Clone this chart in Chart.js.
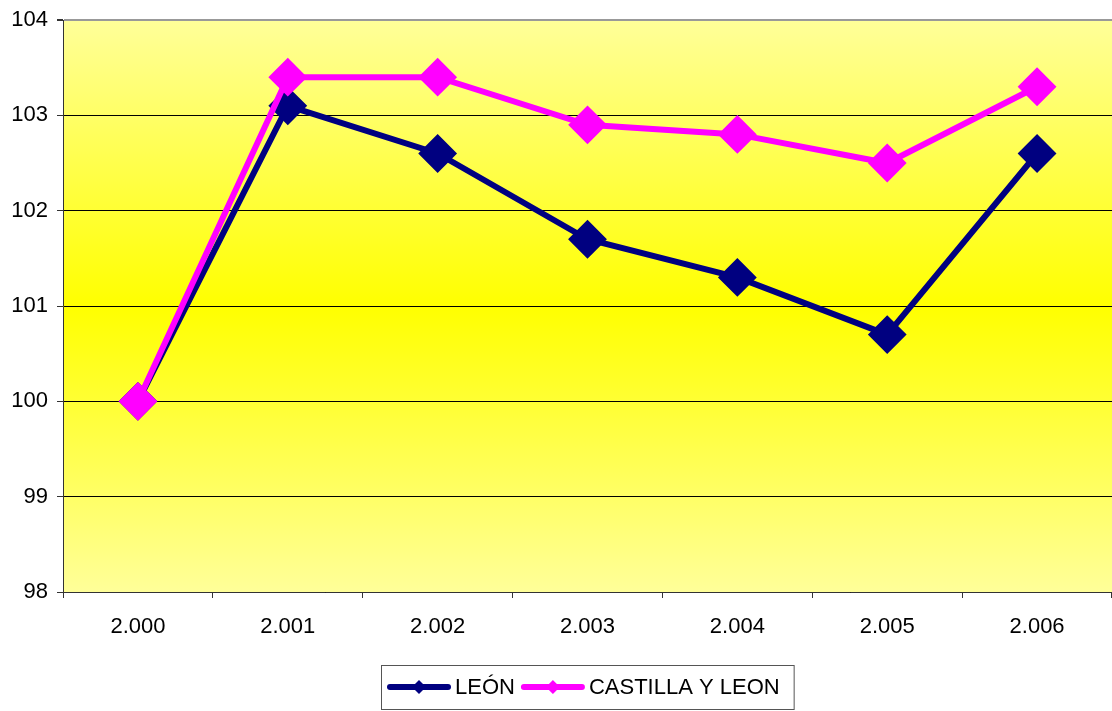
<!DOCTYPE html>
<html>
<head>
<meta charset="utf-8">
<script src="https://cdn.jsdelivr.net/npm/chart.js@4/dist/chart.umd.min.js"></script>
<style>
  html, body { margin: 0; padding: 0; background: #fff; }
  #wrap { width: 1112px; height: 711px; }
</style>
</head>
<body>
<div id="wrap"><canvas id="chart" width="1112" height="711"></canvas></div>
<script>
// data
const years = ["2.000", "2.001", "2.002", "2.003", "2.004", "2.005", "2.006"];
const leon = [100, 103.1, 102.6, 101.7, 101.3, 100.7, 102.6];
const castillaLeon = [100, 103.4, 103.4, 102.9, 102.8, 102.5, 103.3];
const seriesNames = ["LEÓN", "CASTILLA Y LEON"];
const seriesColors = ["#000080", "#FF00FF"];
const yTicks = [98, 99, 100, 101, 102, 103, 104];

const FONT = "'Liberation Sans', Arial, sans-serif";

// yellow gradient behind the plot area
const plotBackground = {
  id: "plotBackground",
  beforeDraw(chart) {
    const { ctx, chartArea: a } = chart;
    const g = ctx.createLinearGradient(0, a.top, 0, a.bottom);
    g.addColorStop(0, "#FFFF99");
    g.addColorStop(0.5, "#FFFF00");
    g.addColorStop(1, "#FFFF99");
    ctx.save();
    ctx.fillStyle = g;
    ctx.fillRect(a.left, a.top, a.right - a.left, a.bottom - a.top);
    ctx.restore();
  }
};

// boxed legend under the chart: line + diamond, then name
const boxedLegend = {
  id: "boxedLegend",
  afterDraw(chart) {
    const { ctx, chartArea: a } = chart;
    ctx.save();
    ctx.font = "22px " + FONT;
    const lineW = 64, gapText = 4, gapItem = 6, padL = 6, padR = 14;
    let total = padL + padR;
    chart.data.datasets.forEach((ds, i) => {
      total += lineW + gapText + ctx.measureText(ds.label).width;
      if (i > 0) total += gapItem;
    });
    const boxTop = 665, boxH = 44;
    const cx = (a.left + a.right) / 2;
    const boxLeft = Math.round(cx - total / 2);
    ctx.fillStyle = "#fff";
    ctx.fillRect(boxLeft, boxTop, total, boxH);
    ctx.strokeStyle = "#555";
    ctx.lineWidth = 1;
    ctx.strokeRect(boxLeft + 0.5, boxTop + 0.5, total, boxH);

    const cy = boxTop + boxH / 2;
    let x = boxLeft + padL;
    chart.data.datasets.forEach((ds, i) => {
      if (i > 0) x += gapItem;
      ctx.strokeStyle = ds.borderColor;
      ctx.lineWidth = 6;
      ctx.lineCap = "round";
      ctx.beginPath();
      ctx.moveTo(x + 3, cy);
      ctx.lineTo(x + lineW - 3, cy);
      ctx.stroke();
      const mx = x + lineW / 2, r = 7;
      ctx.fillStyle = ds.borderColor;
      ctx.beginPath();
      ctx.moveTo(mx - r, cy);
      ctx.lineTo(mx, cy - r);
      ctx.lineTo(mx + r, cy);
      ctx.lineTo(mx, cy + r);
      ctx.closePath();
      ctx.fill();
      x += lineW + gapText;
      ctx.fillStyle = "#000";
      ctx.textBaseline = "middle";
      ctx.textAlign = "left";
      ctx.fillText(ds.label, x, cy + 1);
      x += ctx.measureText(ds.label).width;
    });
    ctx.restore();
  }
};

function makeDataset(label, values, color, order) {
  return {
    label: label,
    data: values,
    borderColor: color,
    backgroundColor: color,
    borderWidth: 6,
    tension: 0,
    pointStyle: "rectRot",
    pointRadius: 18,
    pointBorderWidth: 2,
    pointBorderColor: color,
    pointBackgroundColor: color,
    pointHoverRadius: 18,
    order: order
  };
}

new Chart(document.getElementById("chart"), {
  type: "line",
  data: {
    labels: years,
    datasets: [
      makeDataset(seriesNames[0], leon, seriesColors[0], 1),
      makeDataset(seriesNames[1], castillaLeon, seriesColors[1], 0)
    ]
  },
  options: {
    responsive: false,
    animation: false,
    events: [],
    layout: {
      autoPadding: false,
      padding: { top: 20, right: 0, bottom: 46, left: 0 }
    },
    plugins: {
      legend: { display: false },
      tooltip: { enabled: false }
    },
    scales: {
      x: {
        type: "category",
        offset: true,
        grid: {
          offset: true,
          drawOnChartArea: false,
          drawTicks: true,
          tickLength: 6,
          color: "#333"
        },
        border: { color: "#333", width: 1 },
        ticks: {
          color: "#000",
          font: { family: FONT, size: 22 },
          padding: 16,
          maxRotation: 0
        },
        afterFit(scale) {
          scale.height = 73;
          scale.paddingLeft = 0;
          scale.paddingRight = 0;
        }
      },
      y: {
        min: 98,
        max: 104,
        afterBuildTicks(scale) {
          scale.ticks = yTicks.map(v => ({ value: v }));
        },
        grid: {
          color: ctx => (ctx.tick && ctx.tick.value === 104 ? "#999" : "#000"),
          lineWidth: ctx => (ctx.tick && ctx.tick.value === 104 ? 2 : 1),
          tickLength: 6,
          tickColor: "#333"
        },
        border: { color: "#333", width: 1 },
        ticks: {
          color: "#000",
          font: { family: FONT, size: 22 },
          padding: 9
        },
        afterFit(scale) {
          scale.width = 63;
          scale.paddingTop = 0;
        }
      }
    }
  },
  plugins: [plotBackground, boxedLegend]
});
</script>
</body>
</html>
